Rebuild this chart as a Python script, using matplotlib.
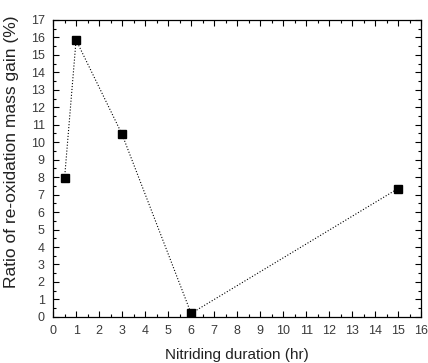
import matplotlib
matplotlib.use("Agg")
import matplotlib.pyplot as plt
from matplotlib.ticker import MultipleLocator

plt.rcParams['font.family'] = ['Liberation Sans', 'DejaVu Sans']

# nitriding time (hr) vs ratio of re-oxidation mass gain (%)
duration = [0.5, 1, 3, 6, 15]
mass_gain = [7.95, 15.85, 10.45, 0.2, 7.35]

fig = plt.figure(figsize=(4.28, 3.63), dpi=100)
ax = fig.add_axes([0.124, 0.127, 0.86, 0.818])

ax.plot(duration, mass_gain, color='black', linestyle=':', linewidth=0.8,
        marker='s', markersize=5.5, markerfacecolor='black', markeredgecolor='black')

ax.set_xlim(0, 16)
ax.set_ylim(0, 17)
ax.xaxis.set_major_locator(MultipleLocator(1))
ax.xaxis.set_minor_locator(MultipleLocator(0.5))
ax.yaxis.set_major_locator(MultipleLocator(1))
ax.yaxis.set_minor_locator(MultipleLocator(0.5))
ax.tick_params(which='both', direction='in', top=True, right=True,
               labelsize=9, labelcolor='#3a3a3a', width=0.8)
ax.tick_params(which='major', length=4, pad=6)
ax.tick_params(which='minor', length=2)
for s in ax.spines.values():
    s.set_linewidth(0.9)

ax.set_xlabel('Nitriding duration (hr)', fontsize=11, color='#222222', labelpad=8)
ax.set_ylabel('Ratio of re-oxidation mass gain (%)', fontsize=12.5, color='#222222')
ax.yaxis.set_label_coords(-0.092, 0.555)

fig.savefig('out.png', dpi=100)
